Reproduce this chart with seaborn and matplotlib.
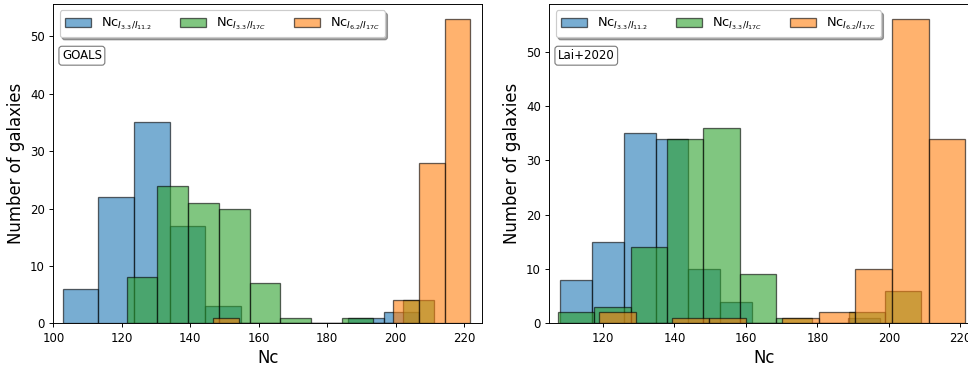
import numpy as np
import matplotlib
matplotlib.use("Agg")
import matplotlib.pyplot as plt
import seaborn as sns

# ---- data ----
labels = [r"Nc$_{I_{3.3}/I_{11.2}}$", r"Nc$_{I_{3.3}/I_{17C}}$", r"Nc$_{I_{6.2}/I_{17C}}$"]
colors = ["tab:blue", "tab:green", "tab:orange"]

# GOALS panel: bin range (min, max) and counts in 10 equal bins
goals_blue_range = (102.7, 206.9)
goals_blue_counts = [6, 22, 35, 17, 3, 0, 0, 0, 1, 2]
goals_green_range = (121.4, 211.2)
goals_green_counts = [8, 24, 21, 20, 7, 1, 0, 1, 0, 4]
goals_orange_range = (146.7, 221.8)
goals_orange_counts = [1, 0, 0, 0, 0, 0, 0, 4, 28, 53]

# Lai+2020 panel
lai_blue_range = (108.0, 197.4)
lai_blue_counts = [8, 15, 35, 34, 10, 4, 0, 0, 0, 1]
lai_green_range = (107.4, 209.1)
lai_green_counts = [2, 3, 14, 34, 36, 9, 1, 0, 2, 6]
lai_orange_range = (118.9, 221.4)
lai_orange_counts = [2, 0, 1, 1, 0, 1, 2, 10, 56, 34]

panels = [
    ("GOALS", (100, 225.3),
     [(goals_blue_range, goals_blue_counts),
      (goals_green_range, goals_green_counts),
      (goals_orange_range, goals_orange_counts)]),
    ("Lai+2020", (105, 225),
     [(lai_blue_range, lai_blue_counts),
      (lai_green_range, lai_green_counts),
      (lai_orange_range, lai_orange_counts)]),
]

DPI = 85
W, H = 968, 369
fig = plt.figure(figsize=(W / DPI, H / DPI), dpi=DPI)

ax_w = 429 / W
ax_b = (H - 323.3) / H
ax_h = (323.3 - 4) / H
lefts = [53.3 / W, 549.3 / W]

for (name, xlim, series), left in zip(panels, lefts):
    ax = fig.add_axes([left, ax_b, ax_w, ax_h])
    for (rng, counts), col, lab in zip(series, colors, labels):
        edges = np.linspace(rng[0], rng[1], len(counts) + 1)
        centers = 0.5 * (edges[:-1] + edges[1:])
        sns.histplot(x=centers, weights=counts, bins=len(counts), binrange=rng,
                     color=col, alpha=0.6, edgecolor=(0, 0, 0, 0.6),
                     linewidth=1.1, label=lab, ax=ax)
    ax.set_xlim(*xlim)
    ax.set_xlabel("Nc", fontsize=14)
    ax.set_ylabel("Number of galaxies", fontsize=14)
    ax.legend(loc="upper left", ncol=3, shadow=True, fontsize=11,
              handlelength=2.0, columnspacing=2.1)
    ax.text(0.02, 0.838, name, transform=ax.transAxes, fontsize=10,
            va="center", ha="left",
            bbox=dict(boxstyle="round,pad=0.25", facecolor="white",
                      edgecolor="gray"))

fig.savefig("out.png", dpi=DPI)
